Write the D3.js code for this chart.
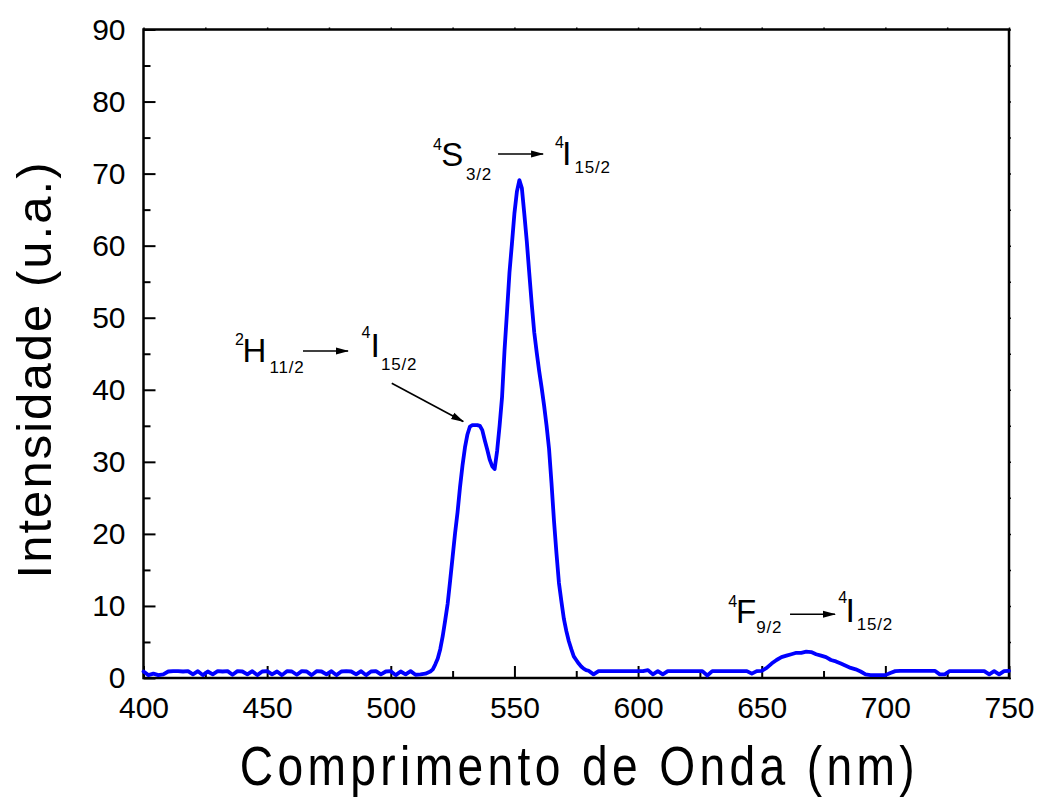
<!DOCTYPE html>
<html>
<head>
<meta charset="utf-8">
<script src="https://cdn.jsdelivr.net/npm/d3@7"></script>
<style>
  body { margin: 0; background: #fff; }
  svg { display: block; }
  text { font-family: "Liberation Sans", Arial, Helvetica, sans-serif; fill: #000; }
</style>
</head>
<body>
<svg id="chart" width="1039" height="798"></svg>
<script>
// ---- Data: upconversion emission spectrum, [wavelength (nm), intensity (u.a.)] ----
const baselineBlue = [
  [400,0.9],[402,0.4],[404,0.6],[406,0.4],[408,0.5],[410,0.9],[412,0.95],[414,0.95],[416,0.9],[418,0.95],
  [420,0.5],[422,0.95],[424,0.4],[426,0.9],[428,0.5],[430,0.95],[432,0.9],[434,0.95],[436,0.45],[438,0.95],
  [440,0.9],[442,0.5],[444,0.95],[446,0.4],[448,0.9],[450,0.95],[452,0.5],[454,0.9],[456,0.4],[458,0.95],
  [460,0.9],[462,0.45],[464,0.95],[466,0.9],[468,0.4],[470,0.95],[472,0.9],[474,0.5],[476,0.95],[478,0.4],
  [480,0.9],[482,0.95],[484,0.9],[486,0.5],[488,0.95],[490,0.4],[492,0.9],[494,0.95],[496,0.5],[498,0.9],
  [500,0.95],[502,0.4],[504,0.9],[506,0.5],[508,0.95],[510,0.45],[512,0.5],[514,0.6],[516,0.9]
];
const greenBand = [
  [517,1.2],[518,1.9],[519,2.7],[520,4.0],[521,5.8],[522,8.0],[523,10.3],[524,13.5],[525,16.8],[526,20.1],
  [527,23.0],[528,26.5],[529,29.5],[530,32.0],[531,33.8],[532,34.9],[533,35.1],[534,35.1],[535,35.1],[536,35.0],
  [537,34.4],[538,33.0],[539,31.7],[540,30.3],[541,29.4],[542,29.0],[543,31.5],[544,35.0],[545,39.0],[546,45.5],
  [547,50.8],[548,56.3],[549,60.3],[550,64.5],[551,67.5],[552,69.1],[553,68.0],[554,64.4],[555,60.6],[556,56.2],
  [557,51.9],[558,48.0],[559,45.2],[560,42.6],[561,40.3],[562,37.8],[563,35.0],[564,31.8],[565,27.0],[566,21.8],
  [567,17.3],[568,13.2],[569,10.6],[570,8.2],[571,6.5],[572,5.1],[573,4.0],[574,3.0],[575,2.5],[576,2.0],
  [577,1.6],[578,1.3],[579,1.1],[580,1.0]
];
const redBand = [
  [582,0.5],[584,0.95],[586,0.95],[588,0.95],[590,0.95],[592,0.95],[594,0.95],[596,0.95],[598,0.95],[600,0.95],
  [602,0.95],[604,1.1],[606,0.5],[608,0.95],[610,0.5],[612,0.95],[614,0.95],[616,0.95],[618,0.95],[620,0.95],
  [622,0.95],[624,0.95],[626,0.95],[628,0.35],[630,0.95],[632,0.95],[634,0.95],[636,0.95],[638,0.95],[640,0.95],
  [642,0.95],[644,0.95],[646,0.6],[648,0.95],[650,1.0],[652,1.4],[654,2.0],[656,2.5],[658,2.9],[660,3.1],
  [662,3.3],[664,3.5],[666,3.5],[668,3.65],[670,3.6],[672,3.3],[674,3.1],[676,2.9],[678,2.5],[680,2.3],
  [682,2.0],[684,1.7],[686,1.4],[688,1.2],[690,0.9],[692,0.5],[694,0.4],[696,0.4],[698,0.4],[700,0.4],
  [702,0.7],[704,0.95],[706,1.0],[708,1.0],[710,1.0],[712,1.0],[714,1.0],[716,1.0],[718,1.0],[720,1.0],
  [722,0.5],[724,0.5],[726,0.95],[728,0.95],[730,0.95],[732,0.95],[734,0.95],[736,0.95],[738,0.95],[740,0.95],
  [742,0.5],[744,0.95],[746,0.5],[748,0.95],[750,1.0]
];

// Tick values
const xMajorTicks = [400, 450, 500, 550, 600, 650, 700, 750];
const xMinorTicks = [425, 475, 525, 575, 625, 675, 725];
const yMajorTicks = [0, 10, 20, 30, 40, 50, 60, 70, 80, 90];
const yMinorTicks = [5, 15, 25, 35, 45, 55, 65, 75, 85];

// Axis titles
const xTitle = "Comprimento de Onda (nm)";
const yTitle = "Intensidade (u.a.)";

// Transition labels: [upper sup, upper term, upper sub, lower sup, lower term, lower sub]
const transitionTexts = [
  ["2", "H", "11/2", "4", "I", "15/2"],
  ["4", "S", "3/2", "4", "I", "15/2"],
  ["4", "F", "9/2", "4", "I", "15/2"]
];
// Anchor of each label in data units (wavelength, intensity)
const transitionAnchors = [[437.0, 43.9], [517.1, 71.0], [636.5, 7.6]];
// Pointer from the 2H11/2 label to the shoulder, in data units
const shoulderPointer = [[500.4, 40.9], [529.3, 35.6]];

// ---- Layout ----
const W = 1039, H = 798;
const margin = { top: 29.5, right: 30, bottom: 120, left: 143.5 };

const svg = d3.select("#chart");

const x = d3.scaleLinear().domain([400, 750]).range([margin.left, W - margin.right]);
const y = d3.scaleLinear().domain([0, 90]).range([H - margin.bottom, margin.top]);

// Arrowhead
svg.append("defs").append("marker")
  .attr("id", "arrowhead")
  .attr("markerUnits", "userSpaceOnUse")
  .attr("viewBox", "0 0 13 8")
  .attr("markerWidth", 13).attr("markerHeight", 8)
  .attr("refX", 12).attr("refY", 4)
  .attr("orient", "auto")
  .append("path").attr("d", "M0,0.5 L13,4 L0,7.5 Z").attr("fill", "#000");

// ---- Axes ----
function styleAxis(g, fontSize) {
  g.select(".domain").remove();
  g.selectAll(".tick line").attr("stroke", "#000").attr("stroke-width", 2);
  g.selectAll(".tick text").attr("font-size", fontSize).attr("fill", "#000")
    .style("font-family", '"Liberation Sans", Arial, sans-serif');
}

const xAxisG = svg.append("g").attr("transform", `translate(0,${y(0)})`)
  .call(d3.axisBottom(x).tickValues(xMajorTicks).tickSizeInner(-12).tickSizeOuter(0)
    .tickPadding(19).tickFormat(d3.format("d")));
styleAxis(xAxisG, 30);

const xMinorG = svg.append("g").attr("transform", `translate(0,${y(0)})`)
  .call(d3.axisBottom(x).tickValues(xMinorTicks).tickSizeInner(-7).tickSizeOuter(0).tickFormat(""));
styleAxis(xMinorG, 0);

const yAxisG = svg.append("g").attr("transform", `translate(${x(400)},0)`)
  .call(d3.axisLeft(y).tickValues(yMajorTicks).tickSizeInner(-12).tickSizeOuter(0)
    .tickPadding(18).tickFormat(d3.format("d")));
styleAxis(yAxisG, 30);

const yMinorG = svg.append("g").attr("transform", `translate(${x(400)},0)`)
  .call(d3.axisLeft(y).tickValues(yMinorTicks).tickSizeInner(-7).tickSizeOuter(0).tickFormat(""));
styleAxis(yMinorG, 0);

// Small tick stubs on the top and right edges
const topG = svg.append("g").attr("transform", `translate(0,${y(90)})`)
  .call(d3.axisTop(x).tickValues(xMajorTicks.concat(xMinorTicks)).tickSizeInner(2).tickSizeOuter(0).tickFormat(""));
styleAxis(topG, 0);
topG.selectAll(".tick line").attr("stroke-width", 1.5);
const rightG = svg.append("g").attr("transform", `translate(${x(750)},0)`)
  .call(d3.axisRight(y).tickValues(yMajorTicks.concat(yMinorTicks)).tickSizeInner(2).tickSizeOuter(0).tickFormat(""));
styleAxis(rightG, 0);
rightG.selectAll(".tick line").attr("stroke-width", 1.5);

// Frame
svg.append("rect")
  .attr("x", x(400)).attr("y", y(90))
  .attr("width", x(750) - x(400)).attr("height", y(0) - y(90))
  .attr("fill", "none").attr("stroke", "#000").attr("stroke-width", 2.5);

// ---- Spectrum ----
const spectrum = baselineBlue.concat(greenBand, redBand);
const line = d3.line().x(d => x(d[0])).y(d => y(d[1]));
svg.append("path")
  .datum(spectrum)
  .attr("d", line)
  .attr("fill", "none")
  .attr("stroke", "#0000ff")
  .attr("stroke-width", 3.8)
  .attr("stroke-linejoin", "round")
  .attr("stroke-linecap", "round");

// ---- Transition labels ----
// Pixel offsets of each piece relative to the label anchor
const labelLayouts = [
  { sup1: [0, -16.7], main1: [7.5, 0], sub1: [34.5, 11.6], arrow: [68, 113, -10.7],
    sup2: [126.5, -23.4], main2: [135.5, -5], sub2: [146, 8.3] },
  { sup1: [0, -16.7], main1: [8.2, 0], sub1: [33, 13.3], arrow: [65, 110, -12.4],
    sup2: [122, -18.7], main2: [129, -1.7], sub2: [141.5, 6.3] },
  { sup1: [0, -16.6], main1: [7.7, 0], sub1: [27.8, 10], arrow: [61.7, 106.7, -9],
    sup2: [110, -20], main2: [117.2, -1.6], sub2: [128.3, 6.7] }
];

transitionTexts.forEach((t, i) => {
  const L = labelLayouts[i];
  const a = transitionAnchors[i];
  const g = svg.append("g").attr("transform", `translate(${x(a[0])},${y(a[1])})`);
  const put = (txt, pos, size, spacing) => g.append("text")
    .attr("x", pos[0]).attr("y", pos[1])
    .attr("font-size", size)
    .attr("letter-spacing", spacing)
    .text(txt);
  put(t[0], L.sup1, 16, 0);
  put(t[1], L.main1, 33, 0);
  put(t[2], L.sub1, 17, 0.8);
  put(t[3], L.sup2, 16, 0);
  put(t[4], L.main2, 34, 0);
  put(t[5], L.sub2, 17, 0.8);
  g.append("line")
    .attr("x1", L.arrow[0]).attr("x2", L.arrow[1])
    .attr("y1", L.arrow[2]).attr("y2", L.arrow[2])
    .attr("stroke", "#000").attr("stroke-width", 1.6)
    .attr("marker-end", "url(#arrowhead)");
});

svg.append("line")
  .attr("x1", x(shoulderPointer[0][0])).attr("y1", y(shoulderPointer[0][1]))
  .attr("x2", x(shoulderPointer[1][0])).attr("y2", y(shoulderPointer[1][1]))
  .attr("stroke", "#000").attr("stroke-width", 1.6)
  .attr("marker-end", "url(#arrowhead)");

// ---- Axis titles ----
// Condensed glyphs with open tracking for the wavelength title
const xTitleSquash = 0.84;
svg.append("text")
  .attr("transform", `translate(${(x(400) + x(750)) / 2 + 1},785) scale(${xTitleSquash},1)`)
  .attr("text-anchor", "middle")
  .attr("font-size", 55)
  .attr("textLength", 675 / xTitleSquash).attr("lengthAdjust", "spacing")
  .text(xTitle);

svg.append("text")
  .attr("transform", `translate(51,${370.5}) rotate(-90)`)
  .attr("text-anchor", "middle")
  .attr("font-size", 49)
  .attr("textLength", 416).attr("lengthAdjust", "spacing")
  .text(yTitle);
</script>
</body>
</html>
